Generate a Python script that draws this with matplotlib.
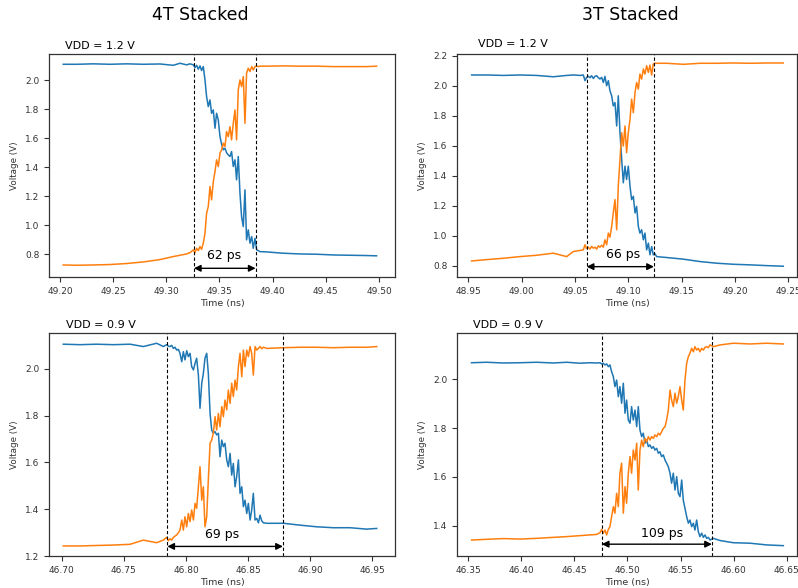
import matplotlib
matplotlib.use("Agg")
import matplotlib.pyplot as plt

# ---- 4T stacked, VDD = 1.2 V ----
tl_t = [49.2031, 49.2157, 49.2313, 49.2470, 49.2627, 49.2784, 49.2940, 49.3066, 49.3129, 49.3191,
        49.3223, 49.3254, 49.3270, 49.3285, 49.3301, 49.3317, 49.3332, 49.3348, 49.3364, 49.3379,
        49.3395, 49.3411, 49.3426, 49.3442, 49.3458, 49.3473, 49.3489, 49.3505, 49.3520, 49.3536,
        49.3552, 49.3567, 49.3583, 49.3599, 49.3614, 49.3630, 49.3646, 49.3661, 49.3677, 49.3693,
        49.3708, 49.3724, 49.3740, 49.3755, 49.3771, 49.3787, 49.3803, 49.3818, 49.3834, 49.3850,
        49.3865, 49.3881, 49.3944, 49.4100, 49.4257, 49.4414, 49.4571, 49.4727, 49.4884, 49.4978]
tl_blue = [2.110, 2.110, 2.113, 2.110, 2.113, 2.110, 2.112, 2.103, 2.117, 2.106,
           2.113, 2.106, 2.087, 2.103, 2.076, 2.099, 2.067, 2.094, 2.002, 1.887,
           1.818, 1.864, 1.772, 1.795, 1.669, 1.772, 1.726, 1.611, 1.560, 1.520,
           1.531, 1.500, 1.485, 1.474, 1.508, 1.405, 1.451, 1.313, 1.474, 1.221,
           1.060, 0.991, 1.244, 0.899, 0.968, 0.876, 0.922, 0.841, 0.910, 0.830,
           0.825, 0.818, 0.816, 0.807, 0.802, 0.800, 0.795, 0.793, 0.791, 0.789]
tl_orange = [0.726, 0.724, 0.726, 0.729, 0.736, 0.747, 0.763, 0.784, 0.793, 0.802,
             0.811, 0.830, 0.811, 0.841, 0.825, 0.853, 0.834, 0.876, 0.945, 1.083,
             1.129, 1.267, 1.175, 1.301, 1.370, 1.451, 1.405, 1.497, 1.520, 1.566,
             1.543, 1.646, 1.611, 1.680, 1.589, 1.703, 1.795, 1.589, 1.933, 2.002,
             1.956, 2.025, 1.703, 2.048, 2.083, 2.060, 2.094, 2.071, 2.094, 2.097,
             2.094, 2.097, 2.097, 2.099, 2.097, 2.097, 2.094, 2.094, 2.094, 2.097]

# ---- 3T stacked, VDD = 1.2 V ----
tr_t = [48.9531, 48.9672, 48.9828, 48.9984, 49.0141, 49.0297, 49.0422, 49.0484, 49.0547, 49.0578,
        49.0594, 49.0609, 49.0625, 49.0641, 49.0656, 49.0672, 49.0688, 49.0703, 49.0719, 49.0734,
        49.0750, 49.0766, 49.0781, 49.0797, 49.0813, 49.0828, 49.0844, 49.0859, 49.0875, 49.0891,
        49.0906, 49.0922, 49.0938, 49.0953, 49.0969, 49.0984, 49.1000, 49.1016, 49.1031, 49.1047,
        49.1063, 49.1078, 49.1094, 49.1109, 49.1125, 49.1141, 49.1156, 49.1172, 49.1188, 49.1203,
        49.1219, 49.1234, 49.1250, 49.1266, 49.1359, 49.1516, 49.1672, 49.1828, 49.1984, 49.2141,
        49.2297, 49.2453]
tr_blue = [2.071, 2.071, 2.068, 2.071, 2.068, 2.059, 2.068, 2.071, 2.068, 2.071,
           2.033, 2.055, 2.062, 2.053, 2.066, 2.048, 2.062, 2.066, 2.053, 2.044,
           2.055, 2.021, 2.062, 1.999, 2.033, 1.966, 1.932, 1.865, 1.887, 1.731,
           1.932, 1.686, 1.508, 1.352, 1.463, 1.374, 1.463, 1.329, 1.240, 1.262,
           1.151, 1.195, 1.061, 1.017, 1.039, 0.972, 1.017, 0.905, 0.950, 0.872,
           0.927, 0.872, 0.878, 0.860, 0.854, 0.843, 0.827, 0.816, 0.809, 0.805,
           0.800, 0.796]
tr_orange = [0.831, 0.840, 0.849, 0.860, 0.869, 0.883, 0.860, 0.894, 0.901, 0.905,
             0.939, 0.914, 0.923, 0.910, 0.928, 0.916, 0.923, 0.910, 0.932, 0.923,
             0.936, 0.923, 0.972, 0.939, 1.017, 0.990, 1.061, 1.151, 1.240, 1.039,
             1.329, 1.508, 1.686, 1.597, 1.731, 1.553, 1.686, 1.776, 1.910, 1.820,
             1.954, 2.021, 1.977, 2.077, 2.044, 2.111, 2.077, 2.133, 2.088, 2.137,
             2.071, 2.144, 2.151, 2.149, 2.149, 2.142, 2.149, 2.149, 2.151, 2.149,
             2.151, 2.151]

# ---- 4T stacked, VDD = 0.9 V ----
bl_t = [46.7013, 46.7148, 46.7282, 46.7416, 46.7550, 46.7657, 46.7764, 46.7818, 46.7845, 46.7858,
        46.7872, 46.7885, 46.7899, 46.7912, 46.7925, 46.7939, 46.7952, 46.7966, 46.7979, 46.7992,
        46.8006, 46.8019, 46.8033, 46.8046, 46.8060, 46.8073, 46.8086, 46.8100, 46.8113, 46.8127,
        46.8140, 46.8153, 46.8167, 46.8180, 46.8194, 46.8207, 46.8220, 46.8234, 46.8247, 46.8261,
        46.8274, 46.8288, 46.8301, 46.8314, 46.8328, 46.8341, 46.8355, 46.8368, 46.8381, 46.8395,
        46.8408, 46.8422, 46.8435, 46.8449, 46.8462, 46.8475, 46.8489, 46.8502, 46.8516, 46.8529,
        46.8542, 46.8556, 46.8569, 46.8583, 46.8596, 46.8609, 46.8623, 46.8650, 46.8784, 46.8918,
        46.9052, 46.9186, 46.9320, 46.9454, 46.9535]
bl_blue = [2.106, 2.104, 2.106, 2.104, 2.106, 2.096, 2.110, 2.096, 2.104, 2.098,
           2.096, 2.101, 2.088, 2.093, 2.081, 2.084, 2.067, 2.031, 2.074, 2.039,
           2.078, 2.053, 2.067, 2.010, 1.996, 2.024, 2.046, 1.974, 1.832, 1.939,
           1.981, 2.046, 2.067, 1.981, 1.810, 1.739, 1.725, 1.732, 1.718, 1.725,
           1.625, 1.696, 1.668, 1.682, 1.611, 1.582, 1.639, 1.546, 1.596, 1.496,
           1.539, 1.611, 1.468, 1.496, 1.411, 1.439, 1.382, 1.425, 1.354, 1.397,
           1.468, 1.354, 1.361, 1.342, 1.375, 1.351, 1.342, 1.340, 1.340, 1.332,
           1.325, 1.321, 1.321, 1.315, 1.318]
bl_orange = [1.243, 1.243, 1.245, 1.247, 1.250, 1.268, 1.257, 1.268, 1.280, 1.265,
             1.274, 1.268, 1.280, 1.285, 1.290, 1.300, 1.311, 1.354, 1.311, 1.368,
             1.325, 1.382, 1.347, 1.397, 1.354, 1.425, 1.404, 1.496, 1.582, 1.439,
             1.496, 1.325, 1.368, 1.525, 1.682, 1.696, 1.725, 1.796, 1.739, 1.810,
             1.753, 1.839, 1.796, 1.867, 1.825, 1.910, 1.853, 1.939, 1.882, 1.953,
             1.910, 2.010, 2.067, 1.967, 2.081, 2.010, 2.081, 2.053, 2.096, 2.067,
             1.974, 2.096, 2.081, 2.088, 2.096, 2.087, 2.093, 2.088, 2.091, 2.093,
             2.093, 2.091, 2.093, 2.093, 2.096]

# ---- 3T stacked, VDD = 0.9 V ----
br_t = [46.3531, 46.3673, 46.3830, 46.3987, 46.4144, 46.4301, 46.4427, 46.4552, 46.4647, 46.4710,
        46.4741, 46.4757, 46.4772, 46.4788, 46.4804, 46.4820, 46.4835, 46.4851, 46.4867, 46.4882,
        46.4898, 46.4914, 46.4929, 46.4945, 46.4961, 46.4977, 46.4992, 46.5008, 46.5024, 46.5039,
        46.5055, 46.5071, 46.5087, 46.5102, 46.5118, 46.5134, 46.5149, 46.5165, 46.5181, 46.5197,
        46.5212, 46.5228, 46.5244, 46.5259, 46.5275, 46.5291, 46.5306, 46.5322, 46.5338, 46.5354,
        46.5369, 46.5385, 46.5401, 46.5416, 46.5432, 46.5448, 46.5464, 46.5479, 46.5495, 46.5511,
        46.5526, 46.5542, 46.5558, 46.5574, 46.5589, 46.5605, 46.5621, 46.5636, 46.5652, 46.5668,
        46.5683, 46.5699, 46.5715, 46.5731, 46.5746, 46.5762, 46.5778, 46.5809, 46.5872, 46.5998,
        46.6155, 46.6312, 46.6469]
br_blue = [2.068, 2.070, 2.067, 2.068, 2.070, 2.067, 2.070, 2.066, 2.068, 2.067,
           2.068, 2.063, 2.066, 2.059, 2.063, 2.052, 2.059, 2.031, 2.011, 1.970,
           1.997, 1.929, 1.970, 1.902, 1.984, 1.861, 1.915, 1.833, 1.820, 1.888,
           1.833, 1.874, 1.806, 1.888, 1.792, 1.765, 1.779, 1.738, 1.751, 1.724,
           1.731, 1.717, 1.724, 1.710, 1.717, 1.697, 1.703, 1.683, 1.690, 1.669,
           1.656, 1.642, 1.615, 1.574, 1.615, 1.546, 1.601, 1.533, 1.519, 1.587,
           1.505, 1.471, 1.437, 1.410, 1.423, 1.396, 1.410, 1.382, 1.423, 1.375,
           1.355, 1.369, 1.352, 1.362, 1.348, 1.352, 1.341, 1.348, 1.339, 1.330,
           1.328, 1.321, 1.318]
br_orange = [1.341, 1.344, 1.347, 1.345, 1.348, 1.352, 1.355, 1.359, 1.362, 1.364,
             1.371, 1.385, 1.369, 1.382, 1.362, 1.385, 1.396, 1.437, 1.478, 1.451,
             1.533, 1.478, 1.615, 1.656, 1.451, 1.560, 1.492, 1.615, 1.683, 1.615,
             1.710, 1.669, 1.738, 1.546, 1.710, 1.751, 1.724, 1.758, 1.744, 1.765,
             1.751, 1.765, 1.758, 1.772, 1.765, 1.779, 1.772, 1.785, 1.799, 1.806,
             1.833, 1.874, 1.956, 1.915, 1.888, 1.943, 1.902, 1.929, 1.970, 1.915,
             1.874, 1.997, 2.066, 2.093, 2.107, 2.127, 2.113, 2.134, 2.120, 2.127,
             2.113, 2.127, 2.120, 2.131, 2.134, 2.130, 2.141, 2.134, 2.141, 2.148,
             2.145, 2.148, 2.145]

# per-panel annotations: edge markers, delay label
tl_edges = [49.326, 49.384]
tr_edges = [49.061, 49.124]
bl_edges = [46.785, 46.878]
br_edges = [46.4758, 46.5796]
delay_labels = ["62 ps", "66 ps", "69 ps", "109 ps"]
vdd_labels = ["VDD = 1.2 V", "VDD = 1.2 V", "VDD = 0.9 V", "VDD = 0.9 V"]
column_titles = ["4T Stacked", "3T Stacked"]

tl_yticks = [0.8, 1.0, 1.2, 1.4, 1.6, 1.8, 2.0]
tr_yticks = [0.8, 1.0, 1.2, 1.4, 1.6, 1.8, 2.0, 2.2]
bl_yticks = [1.2, 1.4, 1.6, 1.8, 2.0]
br_yticks = [1.4, 1.6, 1.8, 2.0]
tl_xticks = [49.20, 49.25, 49.30, 49.35, 49.40, 49.45, 49.50]
tr_xticks = [48.95, 49.00, 49.05, 49.10, 49.15, 49.20, 49.25]
bl_xticks = [46.70, 46.75, 46.80, 46.85, 46.90, 46.95]
br_xticks = [46.35, 46.40, 46.45, 46.50, 46.55, 46.60, 46.65]


fig = plt.figure(figsize=(7.98, 5.88), dpi=100)

panels = [
    dict(rect=[0.0614, 0.5289, 0.4336, 0.3793], t=tl_t, blue=tl_blue, orange=tl_orange,
         edges=tl_edges, xlim=(49.1897, 49.5151), ylim=(0.643, 2.181),
         xticks=tl_xticks, yticks=tl_yticks, arrow_y=0.703, label_xy=(49.354, 0.788), vdd_x=0.046, vdd_y=1.022),
    dict(rect=[0.5727, 0.5289, 0.4261, 0.3793], t=tr_t, blue=tr_blue, orange=tr_orange,
         edges=tr_edges, xlim=(48.9394, 49.2582), ylim=(0.724, 2.211),
         xticks=tr_xticks, yticks=tr_yticks, arrow_y=0.793, label_xy=(49.095, 0.872), vdd_x=0.062, vdd_y=1.030),
    dict(rect=[0.0614, 0.0544, 0.4336, 0.3793], t=bl_t, blue=bl_blue, orange=bl_orange,
         edges=bl_edges, xlim=(46.6898, 46.9682), ylim=(1.200, 2.154),
         xticks=bl_xticks, yticks=bl_yticks, arrow_y=1.241, label_xy=(46.829, 1.290), vdd_x=0.049, vdd_y=1.021),
    dict(rect=[0.5727, 0.0544, 0.4261, 0.3793], t=br_t, blue=br_blue, orange=br_orange,
         edges=br_edges, xlim=(46.3394, 46.6598), ylim=(1.2755, 2.190),
         xticks=br_xticks, yticks=br_yticks, arrow_y=1.324, label_xy=(46.5326, 1.369), vdd_x=0.047, vdd_y=1.021),
]

for i, p in enumerate(panels):
    ax = fig.add_axes(p["rect"])
    ax.plot(p["t"], p["blue"], color="#1f77b4", linewidth=1.1)
    ax.plot(p["t"], p["orange"], color="#ff7f0e", linewidth=1.1)
    for edge in p["edges"]:
        ax.axvline(edge, color="black", linestyle="--", linewidth=0.8, dashes=(3, 2))
    ax.annotate("", xy=(p["edges"][1], p["arrow_y"]), xytext=(p["edges"][0], p["arrow_y"]),
                arrowprops=dict(arrowstyle="<|-|>", color="black", lw=1.0,
                                shrinkA=0, shrinkB=0, mutation_scale=10))
    ax.text(p["label_xy"][0], p["label_xy"][1], delay_labels[i], ha="center", va="center", fontsize=9)
    ax.text(p["vdd_x"], p["vdd_y"], vdd_labels[i], transform=ax.transAxes,
            ha="left", va="baseline", fontsize=8)
    ax.set_xlim(*p["xlim"])
    ax.set_ylim(*p["ylim"])
    ax.set_xticks(p["xticks"])
    ax.set_xticklabels([f"{x:.2f}" for x in p["xticks"]])
    ax.set_yticks(p["yticks"])
    ax.set_yticklabels([f"{y:.1f}" for y in p["yticks"]])
    ax.tick_params(labelsize=6.5, colors="#333333", length=3.5, width=0.8)
    for spine in ax.spines.values():
        spine.set_color("#333333")
        spine.set_linewidth(0.9)
    ax.set_xlabel("Time (ns)", fontsize=6.8, color="#333333", labelpad=2)
    ax.set_ylabel("Voltage (V)", fontsize=6.3, color="#333333")

fig.text(200 / 798, 1 - 15 / 588, column_titles[0], ha="center", va="center", fontsize=12.5)
fig.text(630 / 798, 1 - 15 / 588, column_titles[1], ha="center", va="center", fontsize=12.5)

fig.savefig("out.png", dpi=100)
